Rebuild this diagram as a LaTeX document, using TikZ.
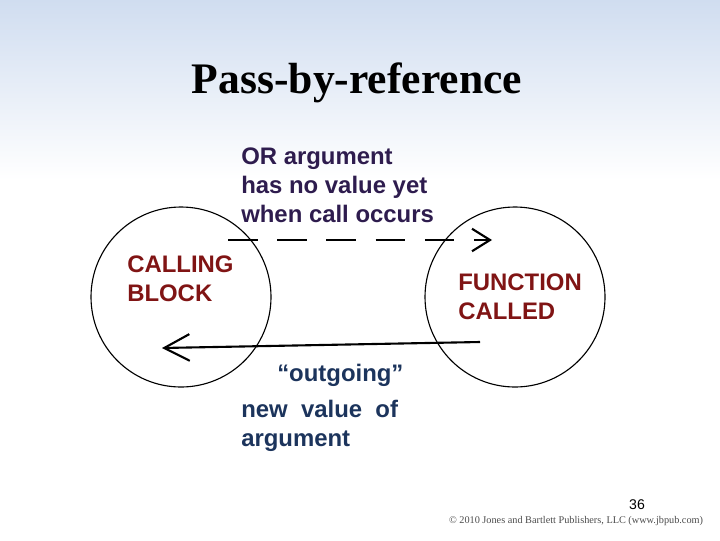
\documentclass[tikz,border=0pt]{standalone}
\usepackage{fontspec}
\setmainfont{Liberation Serif}
\setsansfont{Liberation Sans}
\usetikzlibrary{arrows.meta, positioning}
\definecolor{notepurple}{RGB}{46,28,78}
\definecolor{blockred}{RGB}{128,20,20}
\definecolor{outblue}{RGB}{28,52,92}
\definecolor{skyblue}{RGB}{208,221,240}

\begin{document}
\begin{tikzpicture}[
  x=0.025cm, y=-0.025cm,
  flow/.style={line width=1.5pt},
  blob/.style={circle, draw=black, line width=0.8pt, minimum size=180*0.025cm, inner sep=0pt},
  note/.style={anchor=north west, inner sep=0pt, align=left, font=\sffamily\bfseries\fontsize{17}{20.6}\selectfont}
]
\useasboundingbox (0,0) rectangle (720,540);
\shade[top color=skyblue, bottom color=white] (0,0) rectangle (720,180);

\node[font=\bfseries\fontsize{31}{36}\selectfont] (title) at (357,83) {Pass-by-reference};

\node[blob] (caller) at (181,297) {};
\node[blob] (callee) at (515,297) {};

\node[note, text=notepurple] (inlabel) at (241,148) {OR argument\\has no value yet\\when call occurs};
\node[note, text=blockred] (callertxt) at (127,256) {CALLING\\BLOCK};
\node[note, text=blockred] (calleetxt) at (458,274) {FUNCTION\\CALLED};
\node[note, text=outblue] (outlabel) at (277,364) {“outgoing”};
\node[note, text=outblue] (newval) at (241,400) {new\ \ value\ \ of\\argument};

% Arrows
\coordinate (inA) at (228,240);
\coordinate (inB) at (492,240);
\coordinate (outA) at (480,342);
\coordinate (outB) at (162,348);
\draw[flow, dash pattern=on 21pt off 14pt, -{Straight Barb[length=12.8pt, width=16pt]}] (inA) -- (inB);
\draw[flow, -{Straight Barb[length=18pt, width=19pt]}] (outA) -- (outB);

\node[font=\sffamily\fontsize{10}{12}\selectfont] (page) at (637,505) {36};
\node[font=\fontsize{7.3}{9}\selectfont, text=black!70, anchor=east] (credit) at (708,521) {© 2010 Jones and Bartlett Publishers, LLC (www.jbpub.com)};
\end{tikzpicture}
\end{document}
